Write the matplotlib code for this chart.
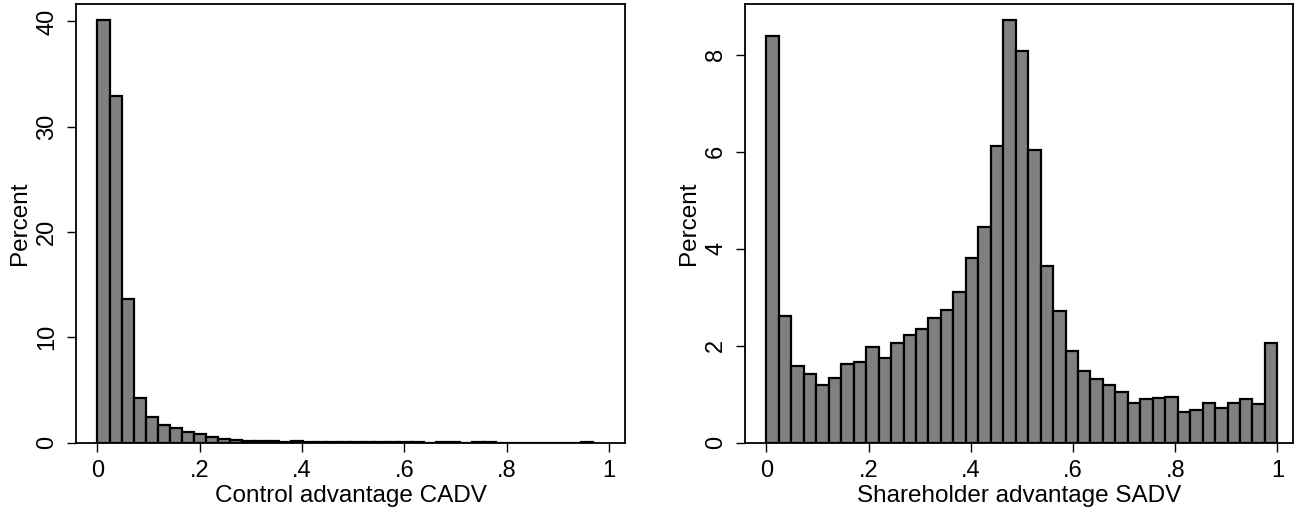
import numpy as np
import matplotlib
matplotlib.use("Agg")
import matplotlib.pyplot as plt

plt.rcParams['font.family'] = ['Liberation Sans', 'DejaVu Sans']

# Control advantage CADV: 41 bins from 0 to ~0.968, percent per bin
cadv_max = 0.968
cadv_pct = [40.1, 32.9, 13.6, 4.2, 2.4, 1.7, 1.4, 1.0, 0.8, 0.55,
            0.35, 0.25, 0.18, 0.15, 0.12, 0.1, 0.15, 0.08, 0.06, 0.05,
            0.05, 0.04, 0.05, 0.04, 0.03, 0.03, 0.02, 0.0, 0.05, 0.05,
            0.0, 0.05, 0.05, 0.0, 0.0, 0.0, 0.0, 0.0, 0.0, 0.0, 0.05]

# Shareholder advantage SADV: 41 bins from 0 to 1
sadv_max = 1.0
sadv_pct = [8.39, 2.61, 1.59, 1.42, 1.20, 1.33, 1.63, 1.67, 1.97, 1.75,
            2.06, 2.23, 2.35, 2.58, 2.74, 3.10, 3.80, 4.45, 6.13, 8.72,
            8.08, 6.03, 3.65, 2.72, 1.90, 1.48, 1.32, 1.18, 1.05, 0.81,
            0.91, 0.92, 0.95, 0.63, 0.68, 0.82, 0.71, 0.82, 0.91, 0.80,
            2.06]

xticks = [0, 0.2, 0.4, 0.6, 0.8, 1.0]
xticklabels = ["0", ".2", ".4", ".6", ".8", "1"]

fig = plt.figure(figsize=(12.94, 5.12), dpi=100)

def histPanel(rect, pct, vmax, ymax, yticks, xlabel):
    ax = fig.add_axes(rect)
    edges = np.linspace(0, vmax, len(pct) + 1)
    ax.bar(edges[:-1], pct, width=edges[1] - edges[0], align='edge',
           color='#808080', edgecolor='black', linewidth=1.6)
    ax.set_xlim(-0.042, 1.031)
    ax.set_ylim(0, ymax)
    ax.set_xticks(xticks)
    ax.set_xticklabels(xticklabels)
    ax.set_yticks(yticks)
    ax.set_yticklabels([str(t) for t in yticks], rotation=90, va='center')
    ax.tick_params(direction='out', length=6.8, width=1.0, pad=6,
                   labelsize=17, colors='black')
    for s in ax.spines.values():
        s.set_linewidth(1.3)
    ax.set_xlabel(xlabel, fontsize=17.5, labelpad=2)
    ax.set_ylabel("Percent", fontsize=17.5, labelpad=4)
    return ax

histPanel([0.0587, 0.1354, 0.4243, 0.8568], cadv_pct, cadv_max, 41.66,
          [0, 10, 20, 30, 40], "Control advantage CADV")
histPanel([0.5757, 0.1354, 0.4237, 0.8568], sadv_pct, sadv_max, 9.05,
          [0, 2, 4, 6, 8], "Shareholder advantage SADV")

fig.savefig("out.png", dpi=100)
